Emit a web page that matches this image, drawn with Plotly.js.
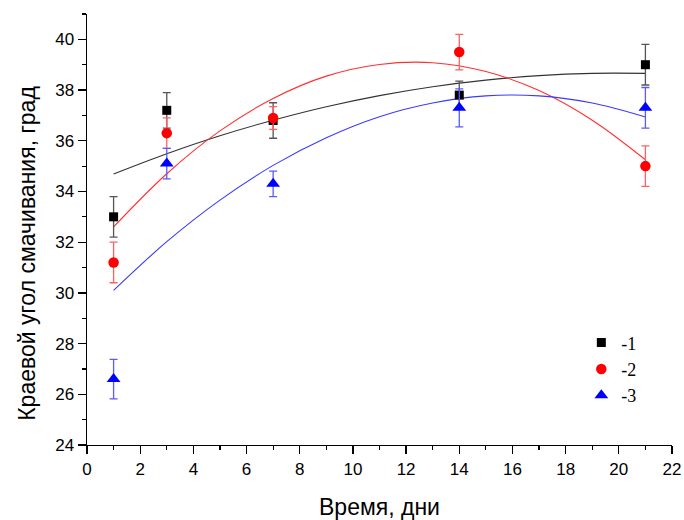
<!DOCTYPE html>
<html>
<head>
<meta charset="utf-8">
<script src="https://cdn.plot.ly/plotly-3.0.1.min.js"></script>
<style>html,body{margin:0;padding:0;background:#fff;}#chart{width:684px;height:520px;}</style>
</head>
<body>
<div id="chart"></div>
<script>
// Measured data
const days = [1, 3, 7, 14, 21];
const series1 = [33.0, 37.2, 36.8, 37.8, 39.0];
const err1 = [0.8, 0.7, 0.7, 0.55, 0.8];
const series2 = [31.2, 36.3, 36.9, 39.5, 35.0];
const err2 = [0.8, 0.6, 0.45, 0.7, 0.8];
const series3 = [26.6, 35.1, 34.3, 37.3, 37.3];
const err3 = [0.78, 0.6, 0.5, 0.75, 0.8];

// Fit curves
const fitX = [1, 3, 5, 7, 9, 11, 13, 15, 17, 19, 21];
const fit1 = [34.69, 35.49, 36.20, 36.81, 37.34, 37.78, 38.13, 38.39, 38.57, 38.66, 38.66];
const fit2 = [32.6, 34.7, 36.39, 37.67, 38.55, 39.01, 39.08, 38.73, 37.98, 36.81, 35.25];
const fit3 = [30.1, 32.02, 33.66, 35.03, 36.12, 36.95, 37.49, 37.77, 37.77, 37.49, 36.94];

const legendNames = ['-1', '-2', '-3'];
const xTicks = [0, 2, 4, 6, 8, 10, 12, 14, 16, 18, 20, 22];
const yTicks = [24, 26, 28, 30, 32, 34, 36, 38, 40];
const xTitle = 'Время, дни';
const yTitle = 'Краевой угол смачивания, град';

const fitLine = (y, color) => ({
  x: fitX, y: y, type: 'scatter', mode: 'lines', line: {color: color, width: 1.1, shape: 'spline'},
  showlegend: false, hoverinfo: 'skip'
});
const pts = (y, e, name, sym, size, color, ecolor) => ({
  x: days, y: y, type: 'scatter', mode: 'markers', name: name,
  marker: {symbol: sym, size: size, color: color},
  error_y: {type: 'data', array: e, visible: true, color: ecolor, thickness: 1.3, width: 4}
});

const traces = [
  fitLine(fit1, '#333333'),
  fitLine(fit2, '#ff3030'),
  fitLine(fit3, '#3a3aff'),
  pts(series1, err1, legendNames[0], 'square', 9, '#000000', '#555555'),
  pts(series2, err2, legendNames[1], 'circle', 10.5, '#ff0000', '#ff6060'),
  pts(series3, err3, legendNames[2], 'triangle-up', 12, '#0000ff', '#5a5aff')
];

const axisCommon = {
  ticks: 'outside', ticklen: 8, tickwidth: 1.3, tickcolor: '#000',
  minor: {dtick: 1, ticks: 'outside', ticklen: 4, tickwidth: 1.2, tickcolor: '#000', showgrid: false},
  showline: true, linecolor: '#000', linewidth: 1.4, showgrid: false, zeroline: false,
  tickfont: {size: 17}
};

const layout = {
  width: 684, height: 520,
  margin: {l: 87, r: 12, t: 14, b: 75},
  paper_bgcolor: '#ffffff', plot_bgcolor: '#ffffff',
  font: {family: 'Arial, "Liberation Sans", sans-serif', color: '#000'},
  xaxis: Object.assign({}, axisCommon, {
    range: [0, 22], tickvals: xTicks,
    title: {text: xTitle, font: {size: 23}, standoff: 22}
  }),
  yaxis: Object.assign({}, axisCommon, {
    range: [24, 41], tickvals: yTicks
  }),
  annotations: [{
    text: yTitle, xref: 'paper', yref: 'paper', x: -0.104, y: 0.444,
    xanchor: 'center', yanchor: 'middle', textangle: -90, showarrow: false,
    font: {size: 23}
  }],
  legend: {
    x: 0.845, y: 0.28, xanchor: 'left', yanchor: 'top', bgcolor: 'rgba(0,0,0,0)',
    font: {family: '"Liberation Serif", "Times New Roman", serif', size: 18}, tracegroupgap: 0, itemwidth: 30
  },
  showlegend: true
};

Plotly.newPlot('chart', traces, layout, {displayModeBar: false, staticPlot: true});
</script>
</body>
</html>
